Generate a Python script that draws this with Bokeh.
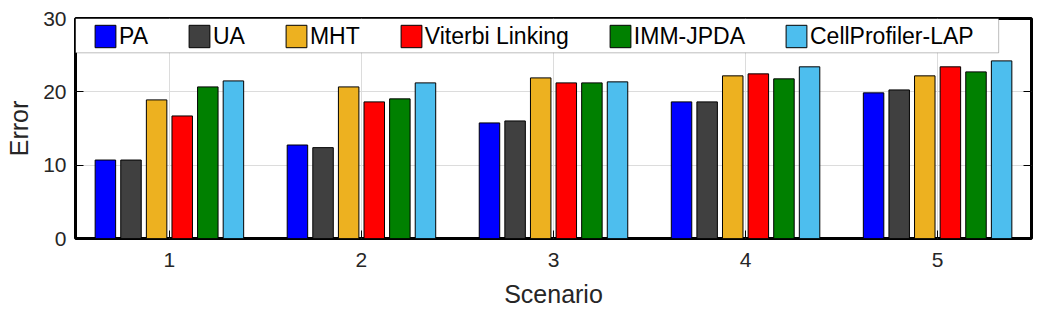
from bokeh.plotting import figure
from bokeh.models import (ColumnDataSource, Range1d, FixedTicker, LinearAxis,
                          Legend, LegendItem, BoxAnnotation)
from bokeh.transform import dodge
from bokeh.embed import file_html
from bokeh.resources import INLINE

scenarios = [1, 2, 3, 4, 5]
methods = ["PA", "UA", "MHT", "Viterbi Linking", "IMM-JPDA", "CellProfiler-LAP"]
colors = ["#0000FF", "#404040", "#EDB120", "#FF0000", "#008000", "#4DBEEE"]

pa = [10.7, 12.75, 15.76, 18.63, 19.86]
ua = [10.7, 12.39, 16.03, 18.63, 20.26]
mht = [18.9, 20.67, 21.9, 22.18, 22.18]
viterbi = [16.71, 18.63, 21.22, 22.45, 23.41]
imm_jpda = [20.67, 19.04, 21.22, 21.77, 22.72]
cellprofiler = [21.49, 21.22, 21.36, 23.41, 24.22]

series = [pa, ua, mht, viterbi, imm_jpda, cellprofiler]

FONT = "Liberation Sans"
TXT = "#262626"

p = figure(frame_width=956, frame_height=220, output_backend="svg",
           toolbar_location=None, x_range=Range1d(0.511, 5.489),
           y_range=Range1d(0, 30), min_border_left=75, min_border_right=9,
           min_border_top=18, min_border_bottom=69)

src = ColumnDataSource(dict(scenario=scenarios, **{f"s{i}": s for i, s in enumerate(series)}))

n = len(methods)
slot = 0.8 / n
renderers = []
for i, (m, c) in enumerate(zip(methods, colors)):
    off = (i - (n - 1) / 2) * slot
    r = p.vbar(x=dodge("scenario", off, range=p.x_range), top=f"s{i}", width=slot * 0.8,
               source=src, fill_color=c, line_color="black", line_width=1)
    renderers.append(r)

# axes
p.xaxis.ticker = FixedTicker(ticks=scenarios)
p.yaxis.ticker = FixedTicker(ticks=[0, 10, 20, 30])
for ax in (p.xaxis[0], p.yaxis[0]):
    ax.axis_line_color = None
    ax.major_tick_in = 8
    ax.major_tick_out = 0
    ax.major_tick_line_color = "black"
    ax.minor_tick_line_color = None
    ax.major_label_text_font = FONT
    ax.major_label_text_font_size = "21px"
    ax.major_label_text_color = TXT
    ax.axis_label_text_font = FONT
    ax.axis_label_text_font_size = "25px"
    ax.axis_label_text_font_style = "normal"
    ax.axis_label_text_color = TXT
p.xaxis.axis_label = "Scenario"
p.yaxis.axis_label = "Error"
p.xaxis.major_label_standoff = 14
p.xaxis.axis_label_standoff = 10
p.yaxis.major_label_standoff = 9
p.yaxis.axis_label_standoff = 7

rax = LinearAxis(ticker=FixedTicker(ticks=[0, 10, 20, 30]), axis_line_color=None,
                 major_tick_in=8, major_tick_out=0, minor_tick_line_color=None,
                 major_label_text_font_size="1px", major_label_text_color=None,
                 major_label_standoff=0)
p.add_layout(rax, "right")

p.xgrid.ticker = FixedTicker(ticks=scenarios)
p.ygrid.ticker = FixedTicker(ticks=[10, 20])
p.xgrid.grid_line_color = "#DCDCDC"
p.ygrid.grid_line_color = "#DCDCDC"

p.outline_line_color = "black"
p.outline_line_width = 3
p.outline_line_alpha = 1
p.background_fill_color = "white"
p.border_fill_color = "white"

# legend box
box = BoxAnnotation(left=0.511, right=5.318, top=30, bottom=25.32,
                    fill_color="white", fill_alpha=1, line_color="#262626",
                    line_width=1, level="overlay")
p.add_layout(box)

legend = Legend(items=[LegendItem(label=m, renderers=[r]) for m, r in zip(methods, renderers)],
                orientation="horizontal", location=(17, 188), padding=0, margin=0,
                spacing=38, glyph_width=26, glyph_height=28, label_standoff=1,
                label_text_font=FONT, label_text_font_size="23px",
                label_text_color="black", border_line_color=None,
                background_fill_alpha=0, label_height=28)
p.add_layout(legend)
legend.level = "overlay"

open("out.html", "w").write(file_html(p, INLINE))
